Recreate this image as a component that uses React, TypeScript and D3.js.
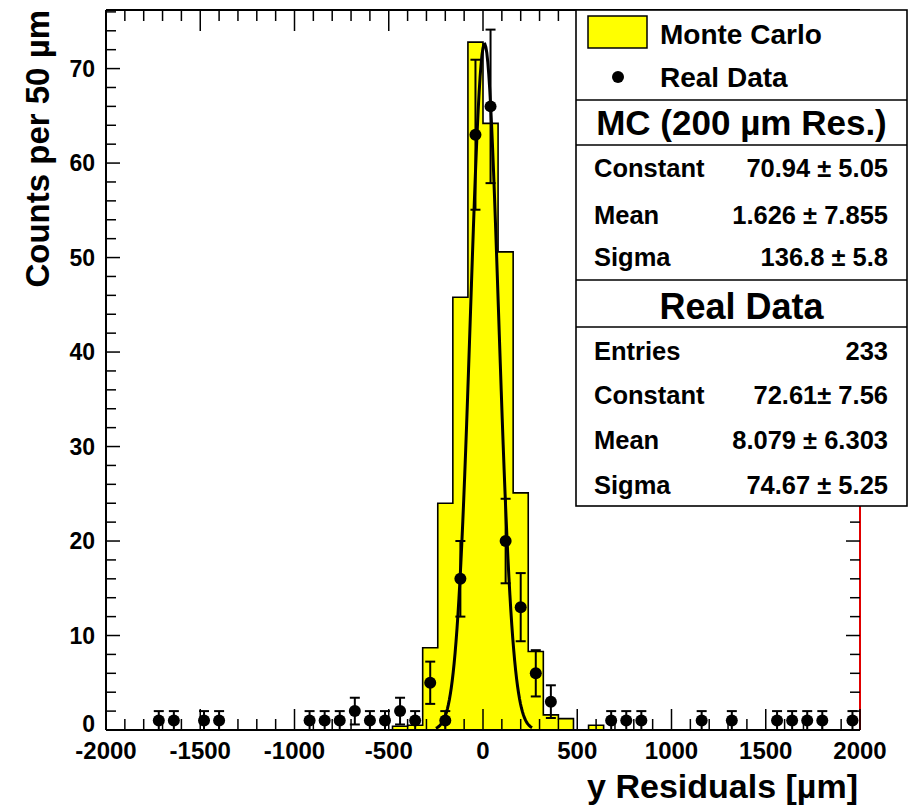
import React from "react";
import * as d3 from "d3";

// bins are 80 um wide
const binWidth = 80;
const mcBinCenters = [-440, -360, -280, -200, -120, -40, 40, 120, 200, 280, 360, 440, 520, 600];
const mcCounts = [0.4, 0.5, 8.7, 24.0, 45.8, 72.8, 64.2, 50.6, 25.1, 8.3, 1.6, 1.2, 0, 0.5];

const dataCenters = [-1720, -1640, -1480, -1400, -920, -840, -760, -680, -600, -520, -440, -360, -280, -200, -120, -40, 40, 120, 200, 280, 360, 680, 760, 840, 1160, 1320, 1560, 1640, 1720, 1800, 1960];
const dataCounts = [1, 1, 1, 1, 1, 1, 1, 2, 1, 1, 2, 1, 5, 1, 16, 63, 66, 20, 13, 6, 3, 1, 1, 1, 1, 1, 1, 1, 1, 1, 1];

// gaussian fit to real data (from stats box)
const fitConstant = 72.61;
const fitMean = 8.079;
const fitSigma = 74.67;
const fitRange = [-250, 260];

const xTickLabels = [-2000, -1500, -1000, -500, 0, 500, 1000, 1500, 2000];
const yTickLabels = [0, 10, 20, 30, 40, 50, 60, 70];

const legendItems = ["Monte Carlo", "Real Data"];
const mcStats = [["Constant", "70.94 \u00b1 5.05"], ["Mean", "1.626 \u00b1 7.855"], ["Sigma", "136.8 \u00b1 5.8"]];
const dataStats = [["Entries", "233"], ["Constant", "72.61\u00b1 7.56"], ["Mean", "8.079 \u00b1 6.303"], ["Sigma", "74.67 \u00b1 5.25"]];

const font = "'Liberation Sans', Arial, Helvetica, sans-serif";

export default function App() {
  const x = d3.scaleLinear().domain([-2000, 2000]).range([106, 860]);
  const y = d3.scaleLinear().domain([0, 76.2]).range([730, 10]);

  // full set of bins for the outline
  const nBins = 4000 / binWidth;
  const mcFull = d3.range(nBins).map(i => {
    const lo = -2000 + i * binWidth;
    const k = mcBinCenters.indexOf(lo + binWidth / 2);
    return { lo, hi: lo + binWidth, v: k >= 0 ? mcCounts[k] : 0 };
  });
  let histPath = `M${x(-2000)},${y(0)}`;
  mcFull.forEach(b => {
    histPath += `L${x(b.lo)},${y(b.v)}L${x(b.hi)},${y(b.v)}`;
  });
  histPath += `L${x(2000)},${y(0)}Z`;

  const fitPts = d3.range(101).map(i => {
    const xv = fitRange[0] + (i / 100) * (fitRange[1] - fitRange[0]);
    return [xv, fitConstant * Math.exp(-0.5 * ((xv - fitMean) / fitSigma) ** 2)];
  });
  const fitLine = d3.line<number[]>().x(d => x(d[0])).y(d => y(d[1]));

  const xTicks = d3.range(-2000, 2001, 100);
  const yTicks = d3.range(0, 77, 2);

  const boxX0 = 576, boxX1 = 907;
  const mcRowY = [177, 224, 266];
  const rdRowY = [360, 404, 449, 494];

  return (
    <svg width={910} height={805} style={{ position: "absolute", left: 0, top: 0, background: "#fff" }}
      fontFamily={font} fontWeight="bold">
      {/* MC histogram */}
      <path d={histPath} fill="#ffff00" stroke="#000" strokeWidth={1.6} />

      {/* fit curve */}
      <path d={fitLine(fitPts) || ""} fill="none" stroke="#000" strokeWidth={3} />

      {/* real data points */}
      {dataCenters.map((c, i) => {
        const n = dataCounts[i];
        const e = Math.sqrt(n);
        const cx = x(c);
        return (
          <g key={i}>
            <line x1={cx} x2={cx} y1={y(n - e)} y2={y(n + e)} stroke="#000" strokeWidth={2} />
            <line x1={cx - 5} x2={cx + 5} y1={y(n + e)} y2={y(n + e)} stroke="#000" strokeWidth={2} />
            <line x1={cx - 5} x2={cx + 5} y1={y(n - e)} y2={y(n - e)} stroke="#000" strokeWidth={2} />
            <circle cx={cx} cy={y(n)} r={6} fill="#000" />
          </g>
        );
      })}

      {/* frame */}
      <line x1={106} x2={106} y1={10} y2={730} stroke="#000" strokeWidth={2} />
      <line x1={106} x2={860} y1={730} y2={730} stroke="#000" strokeWidth={2} />
      <line x1={106} x2={860} y1={10} y2={10} stroke="#000" strokeWidth={2} />
      <line x1={860} x2={860} y1={10} y2={730} stroke="#e00000" strokeWidth={2} />

      {/* x ticks bottom + top */}
      {xTicks.map(t => {
        const len = t % 500 === 0 ? 21 : 11;
        return (
          <g key={"xt" + t}>
            <line x1={x(t)} x2={x(t)} y1={730} y2={730 - len} stroke="#000" strokeWidth={1.5} />
            <line x1={x(t)} x2={x(t)} y1={10} y2={10 + len} stroke="#000" strokeWidth={1.5} />
          </g>
        );
      })}
      {/* y ticks left + right */}
      {yTicks.map(t => {
        const len = t % 10 === 0 ? 14 : 10;
        return (
          <g key={"yt" + t}>
            <line x1={106} x2={106 + len} y1={y(t)} y2={y(t)} stroke="#000" strokeWidth={1.5} />
            <line x1={860} x2={860 - len} y1={y(t)} y2={y(t)} stroke="#000" strokeWidth={1.5} />
          </g>
        );
      })}

      {xTickLabels.map(t => (
        <text key={"xl" + t} x={x(t)} y={759} textAnchor="middle" fontSize={24}>{t}</text>
      ))}
      {yTickLabels.map(t => (
        <text key={"yl" + t} x={95} y={y(t) + (t === 0 ? 2 : 8)} textAnchor="end" fontSize={23}>{t}</text>
      ))}

      <text x={858} y={798} textAnchor="end" fontSize={34}>y Residuals [{"\u00b5"}m]</text>
      <text transform={`translate(49,10) rotate(-90)`} textAnchor="end" fontSize={33}>Counts per 50 {"\u00b5"}m</text>

      {/* stats / legend box */}
      <rect x={boxX0} y={10} width={boxX1 - boxX0} height={496} fill="#fff" stroke="#000" strokeWidth={1.6} />
      {[100, 145, 280, 327].map(v => (
        <line key={"d" + v} x1={boxX0} x2={boxX1} y1={v} y2={v} stroke="#000" strokeWidth={1.6} />
      ))}
      <rect x={588} y={16} width={59} height={32} fill="#ffff00" stroke="#000" strokeWidth={1.5} />
      <text x={660} y={44} fontSize={28}>{legendItems[0]}</text>
      <circle cx={618} cy={77} r={6} fill="#000" />
      <text x={660} y={87} fontSize={28}>{legendItems[1]}</text>

      <text x={(boxX0 + boxX1) / 2} y={135} textAnchor="middle" fontSize={35}>MC (200 {"\u00b5"}m Res.)</text>
      {mcStats.map((r, i) => (
        <g key={"mc" + i}>
          <text x={594} y={mcRowY[i]} fontSize={25.5}>{r[0]}</text>
          <text x={888} y={mcRowY[i]} fontSize={25.5} textAnchor="end">{r[1]}</text>
        </g>
      ))}
      <text x={(boxX0 + boxX1) / 2} y={319} textAnchor="middle" fontSize={36}>Real Data</text>
      {dataStats.map((r, i) => (
        <g key={"rd" + i}>
          <text x={594} y={rdRowY[i]} fontSize={25.5}>{r[0]}</text>
          <text x={888} y={rdRowY[i]} fontSize={25.5} textAnchor="end">{r[1]}</text>
        </g>
      ))}
    </svg>
  );
}
